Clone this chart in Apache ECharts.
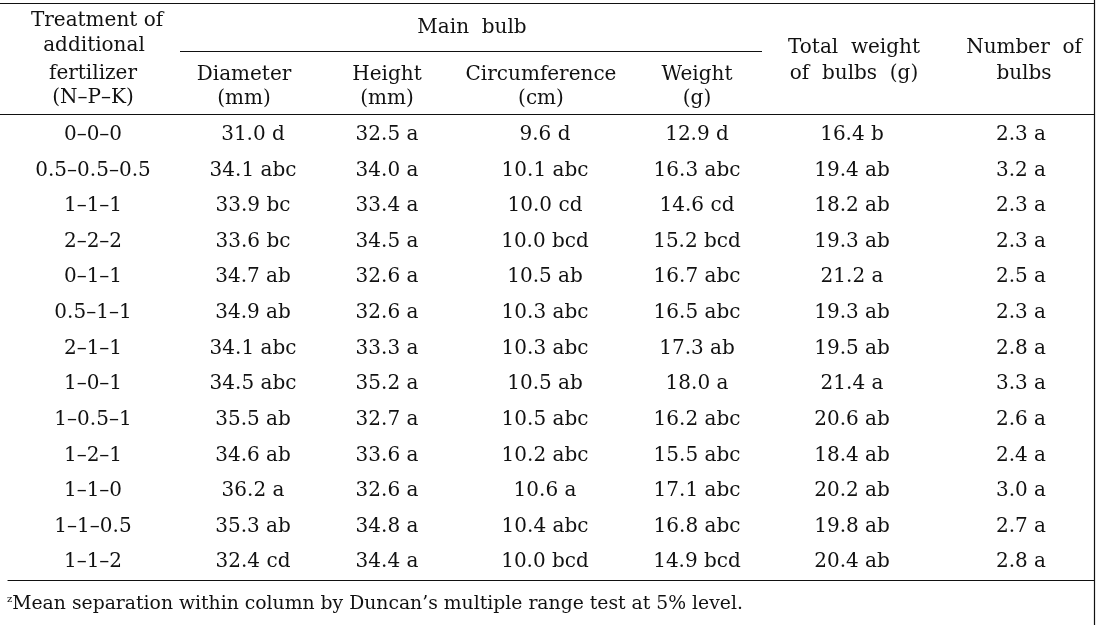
<!DOCTYPE html>
<html>
<head>
<meta charset="utf-8">
<script src="https://cdn.jsdelivr.net/npm/echarts@6/dist/echarts.min.js"></script>
<style>html,body{margin:0;padding:0;background:#fff;}#c{width:1096px;height:625px;}</style>
</head>
<body>
<div id="c"></div>
<script>
// ---- data ----
const treatments = ['0–0–0','0.5–0.5–0.5','1–1–1','2–2–2','0–1–1','0.5–1–1','2–1–1','1–0–1','1–0.5–1','1–2–1','1–1–0','1–1–0.5','1–1–2'];
const diameter    = [31.0,34.1,33.9,33.6,34.7,34.9,34.1,34.5,35.5,34.6,36.2,35.3,32.4];
const diameterSig = ['d','abc','bc','bc','ab','ab','abc','abc','ab','ab','a','ab','cd'];
const height      = [32.5,34.0,33.4,34.5,32.6,32.6,33.3,35.2,32.7,33.6,32.6,34.8,34.4];
const heightSig   = ['a','a','a','a','a','a','a','a','a','a','a','a','a'];
const circumference    = [9.6,10.1,10.0,10.0,10.5,10.3,10.3,10.5,10.5,10.2,10.6,10.4,10.0];
const circumferenceSig = ['d','abc','cd','bcd','ab','abc','abc','ab','abc','abc','a','abc','bcd'];
const weight      = [12.9,16.3,14.6,15.2,16.7,16.5,17.3,18.0,16.2,15.5,17.1,16.8,14.9];
const weightSig   = ['d','abc','cd','bcd','abc','abc','ab','a','abc','abc','abc','abc','bcd'];
const totalWeight    = [16.4,19.4,18.2,19.3,21.2,19.3,19.5,21.4,20.6,18.4,20.2,19.8,20.4];
const totalWeightSig = ['b','ab','ab','ab','a','ab','ab','a','ab','ab','ab','ab','ab'];
const bulbCount    = [2.3,3.2,2.3,2.3,2.5,2.3,2.8,3.3,2.6,2.4,3.0,2.7,2.8];
const bulbCountSig = ['a','a','a','a','a','a','a','a','a','a','a','a','a'];
const footnoteText = 'Mean separation within column by Duncan’s multiple range test at 5% level.';

// ---- layout / style ----
const FONT = '"DejaVu Serif", "Liberation Serif", serif';
const FS = 20;
const INK = '#111111';
const columns = [
  {x: 253, v: diameter, s: diameterSig},
  {x: 387, v: height, s: heightSig},
  {x: 545, v: circumference, s: circumferenceSig},
  {x: 697, v: weight, s: weightSig},
  {x: 852, v: totalWeight, s: totalWeightSig},
  {x: 1021, v: bulbCount, s: bulbCountSig}
];

const chart = echarts.init(document.getElementById('c'), null, {renderer: 'canvas'});

const series = columns.map(col => ({
  type: 'scatter',
  silent: true,
  symbolSize: 1,
  itemStyle: {color: 'rgba(0,0,0,0)', opacity: 1},
  data: treatments.map(t => [col.x, t]),
  label: {
    show: true,
    position: 'inside',
    fontFamily: FONT,
    fontSize: FS,
    color: INK,
    opacity: 1,
    textBorderWidth: 0,
    formatter: p => col.v[p.dataIndex].toFixed(1) + ' ' + col.s[p.dataIndex]
  }
}));

function txt(x, y, s) {
  return {type: 'text', x: x, y: y, silent: true,
    style: {text: s, fontFamily: FONT, fontSize: FS, fill: INK, align: 'center', verticalAlign: 'middle'}};
}
function hline(x1, x2, y, w) {
  return {type: 'line', silent: true, shape: {x1: x1, y1: y, x2: x2, y2: y}, style: {stroke: INK, lineWidth: w || 1.2}};
}

const graphics = [
  hline(0, 1095, 3.5),
  hline(0, 1095, 114.5),
  hline(180, 762, 51.5),
  {type: 'line', silent: true, shape: {x1: 1094.5, y1: 0, x2: 1094.5, y2: 625}, style: {stroke: INK, lineWidth: 1.2}},
  txt(97, 21, 'Treatment of'),
  txt(94, 46, 'additional'),
  txt(93, 74, 'fertilizer'),
  txt(93, 98, '(N–P–K)'),
  txt(472, 28, 'Main  bulb'),
  txt(244, 75, 'Diameter'), txt(244, 99, '(mm)'),
  txt(387, 75, 'Height'), txt(387, 99, '(mm)'),
  txt(541, 75, 'Circumference'), txt(541, 99, '(cm)'),
  txt(697, 75, 'Weight'), txt(697, 99, '(g)'),
  txt(854, 48, 'Total  weight'), txt(854, 74, 'of  bulbs  (g)'),
  txt(1024, 48, 'Number  of'), txt(1024, 74, 'bulbs'),
  {type: 'text', x: 7, y: 604, silent: true,
    style: {
      text: '{sup|z}{t|' + footnoteText + '}',
      verticalAlign: 'middle', align: 'left',
      rich: {
        sup: {fontFamily: FONT, fontSize: 10, fill: INK, verticalAlign: 'top', padding: [0, 0, 10, 0]},
        t: {fontFamily: FONT, fontSize: 18.8, fill: INK}
      }
    }}
];

chart.setOption({
  animation: false,
  backgroundColor: '#fff',
  grid: {left: 8, right: 2, top: 117, bottom: 45},
  xAxis: {
    type: 'value', min: 8, max: 1094,
    axisLine: {show: true, onZero: false, lineStyle: {color: INK, width: 1.2}},
    axisTick: {show: false}, axisLabel: {show: false}, splitLine: {show: false}
  },
  yAxis: {
    type: 'category', inverse: true, data: treatments,
    axisLine: {show: false}, axisTick: {show: false}, splitLine: {show: false},
    axisLabel: {inside: true, margin: 85, align: 'center', fontFamily: FONT, fontSize: FS, color: INK}
  },
  series: series,
  graphic: graphics
});
</script>
</body>
</html>
